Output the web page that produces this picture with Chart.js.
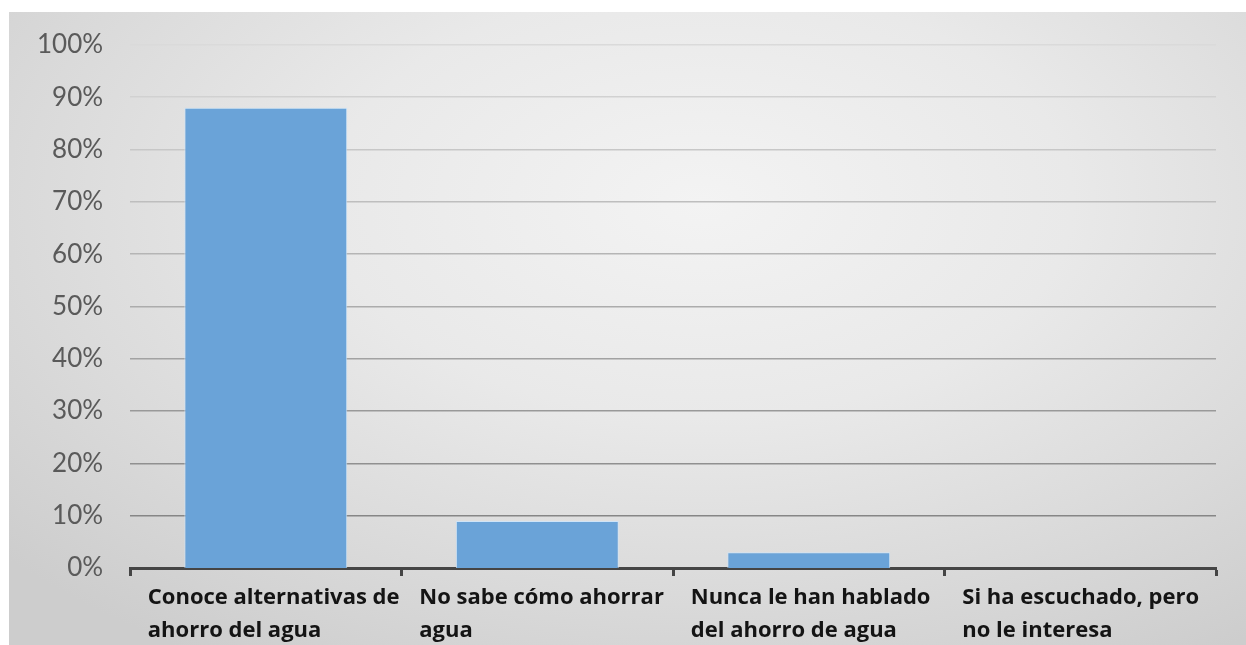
<!DOCTYPE html>
<html lang="es">
<head>
<meta charset="utf-8">
<title>Ahorro del agua</title>
<script src="https://cdn.jsdelivr.net/npm/chart.js@4.4.1/dist/chart.umd.min.js"></script>
<style>
  html, body { margin: 0; padding: 0; background: #ffffff; }
  #panel {
    position: absolute;
    left: 9px; top: 12px;
    width: 1237px; height: 633px;
    background: radial-gradient(ellipse 75% 85% at 56% 30%, #f3f3f3 0%, #e9e9e9 40%, #d9d9d9 75%, #cdcdcd 100%);
  }
  #panel canvas { display: block; }
</style>
</head>
<body>
<div id="panel"><canvas id="chart" width="1237" height="633"></canvas></div>
<script>
// Survey answers about water saving, share of respondents per answer
const categories = [
  ['Conoce alternativas de', 'ahorro del agua'],
  ['No sabe cómo ahorrar', 'agua'],
  ['Nunca le han hablado', 'del ahorro de agua'],
  ['Si ha escuchado, pero', 'no le interesa']
];
const shares = [88, 9, 3, 0];
const yTicks = [0, 10, 20, 30, 40, 50, 60, 70, 80, 90, 100];

// gridlines fade from dark near the baseline to light at the top
function gridShade(v) {
  const dark = 125, light = 218;
  const c = Math.round(dark + (light - dark) * (v / 100));
  return `rgb(${c},${c},${c})`;
}

new Chart(document.getElementById('chart'), {
  type: 'bar',
  data: {
    labels: categories,
    datasets: [{
      data: shares,
      backgroundColor: '#6aa3d8',
      borderColor: 'rgba(205,228,250,0.9)',
      borderWidth: { top: 1, left: 1, right: 1, bottom: 0 },
      borderSkipped: 'bottom',
      barPercentage: 0.6,
      categoryPercentage: 1.0
    }]
  },
  options: {
    responsive: false,
    animation: false,
    layout: { padding: { left: 1, right: 30, top: 33, bottom: -7 } },
    plugins: { legend: { display: false }, tooltip: { enabled: false } },
    scales: {
      x: {
        offset: true,
        // labels are left-aligned inside their category, so they never overflow the axis ends
        afterFit: (scale) => { scale.paddingLeft = 0; scale.paddingRight = 0; },
        grid: {
          display: true,
          drawOnChartArea: false,
          drawTicks: true,
          tickLength: 8,
          tickWidth: 3,
          tickColor: '#454545',
          offset: true
        },
        border: { display: true, color: '#454545', width: 3 },
        ticks: {
          align: 'start',
          labelOffset: -118,
          padding: 5,
          maxRotation: 0,
          autoSkip: false,
          color: '#141414',
          font: { family: 'Open Sans', size: 22, weight: 'bold', lineHeight: 1.5 }
        }
      },
      y: {
        min: 0,
        max: 100,
        afterBuildTicks: (scale) => { scale.ticks = yTicks.map(v => ({ value: v })); },
        afterFit: (scale) => { scale.paddingTop = 0; scale.paddingBottom = 0; },
        grid: {
          drawTicks: false,
          lineWidth: (ctx) => ctx.tick && ctx.tick.value === 0 ? 0 : 1.6,
          color: (ctx) => gridShade(ctx.tick ? ctx.tick.value : 0)
        },
        border: { display: false },
        ticks: {
          padding: 27,
          color: '#5a5a5a',
          font: { family: 'Lato', size: 26 },
          callback: (v) => v + '%'
        }
      }
    }
  }
});
</script>
</body>
</html>
